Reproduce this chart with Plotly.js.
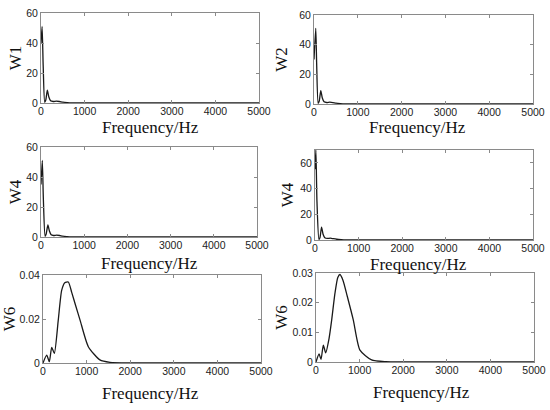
<!DOCTYPE html>
<html><head><meta charset="utf-8">
<script src="https://cdn.plot.ly/plotly-3.0.1.min.js"></script>
<style>html,body{margin:0;padding:0;background:#fff}#chart{width:550px;height:410px}</style>
</head><body><div id="chart"></div>
<script>
// Data
var f1 = [0, 25, 50, 85, 110, 145, 180, 220, 280, 350, 420, 500, 600, 700, 1000, 2000, 5000];
var w1 = [40, 51, 25, 0.5, 2, 8.5, 4, 1.5, 1, 1.2, 1, 0.6, 0.3, 0.1, 0.05, 0, 0];

var f2 = [0, 40, 60, 95, 120, 155, 190, 230, 290, 360, 430, 500, 600, 700, 1000, 2000, 5000];
var w2 = [30, 51, 28, 0.5, 2, 9, 4, 1.5, 1, 1.2, 1, 0.6, 0.3, 0.1, 0.05, 0, 0];

var f3 = [0, 30, 55, 95, 120, 160, 195, 235, 290, 360, 430, 500, 600, 700, 1000, 2000, 5000];
var w3 = [35, 51, 25, 0.5, 2, 8, 4, 1.5, 1, 1.2, 1, 0.6, 0.3, 0.1, 0.05, 0, 0];

var f4 = [0, 20, 45, 90, 115, 150, 185, 225, 285, 350, 420, 500, 600, 700, 1000, 2000, 5000];
var w4 = [55, 70, 30, 0.5, 2, 10, 4.5, 1.8, 1.2, 1.4, 1, 0.6, 0.3, 0.1, 0.05, 0, 0];

var f5 = [0, 85, 145, 200, 260, 350, 428, 500, 580, 660, 750, 850, 1040, 1305, 1535, 2000, 5000];
var w5 = [0, 0.0036, 0.0006, 0.0071, 0.0044, 0.0195, 0.033, 0.0365, 0.0368, 0.032, 0.026, 0.0195, 0.0074, 0.0014, 0.0003, 0, 0];

var f6 = [0, 70, 115, 168, 222, 300, 360, 435, 500, 550, 620, 720, 855, 1008, 1275, 1600, 2000, 5000];
var w6 = [0, 0.0027, 0.0009, 0.0057, 0.0031, 0.008, 0.0142, 0.0232, 0.0285, 0.0295, 0.0275, 0.022, 0.0142, 0.004, 0.0007, 0.0001, 0, 5e-6];

var yTitles = ['W1', 'W2', 'W4', 'W4', 'W6', 'W6'];
var xTitle = 'Frequency/Hz';
var freqs = [f1, f2, f3, f4, f5, f6];
var vals = [w1, w2, w3, w4, w5, w6];
var yRanges = [[0, 60], [0, 60], [0, 60], [0, 70], [0, 0.04], [0, 0.03]];
var yTicks = [[0, 20, 40, 60], [0, 20, 40, 60], [0, 20, 40, 60], [0, 20, 40, 60], [0, 0.02, 0.04], [0, 0.01, 0.02, 0.03]];
var xTicks = [0, 1000, 2000, 3000, 4000, 5000];

// panel pixel boxes [left, right, top, bottom]
var boxes = [[41, 259, 13, 103], [314, 533, 15, 104], [41, 257, 147, 237], [315, 533, 150, 240], [43, 261, 275, 363], [316, 534, 273, 362]];
var xTitlePos = [[150, 127], [417, 127], [149, 263], [418, 264], [150, 393], [422, 392]];
var yStandoff = [0, 7, 0, 2, 0, 0];
var W = 550, H = 410;

var traces = [];
var annotations = [];
var layout = {
  width: W, height: H, margin: {l: 0, r: 0, t: 0, b: 0},
  paper_bgcolor: '#fff', plot_bgcolor: '#fff', showlegend: false,
  font: {family: 'Liberation Sans, Arial, sans-serif', size: 10, color: '#222'}
};
var serif = 'Liberation Serif, Times New Roman, serif';
for (var i = 0; i < 6; i++) {
  var s = i === 0 ? '' : String(i + 1);
  traces.push({x: freqs[i], y: vals[i], type: 'scatter', mode: 'lines',
    line: {color: '#1a1a1a', width: 1.3, shape: 'spline', smoothing: 0.6},
    xaxis: 'x' + s, yaxis: 'y' + s, hoverinfo: 'skip'});
  var b = boxes[i];
  var axStyle = {showline: true, linecolor: '#8a8a8a', linewidth: 1, mirror: 'ticks',
    ticks: 'inside', ticklen: 3, tickcolor: '#8a8a8a', showgrid: false, zeroline: false,
    tickfont: {family: 'Liberation Sans, Arial, sans-serif', size: 10.5, color: '#222'}};
  layout['xaxis' + s] = Object.assign({}, axStyle, {
    domain: [b[0] / W, b[1] / W], anchor: 'y' + s, range: [0, 5000],
    tickvals: xTicks, ticktext: xTicks.map(String), ticklabelstandoff: -2
  });
  layout['yaxis' + s] = Object.assign({}, axStyle, {
    domain: [1 - b[3] / H, 1 - b[2] / H], anchor: 'x' + s, range: yRanges[i],
    tickvals: yTicks[i], ticktext: yTicks[i].map(String),
    title: {text: yTitles[i], font: {family: serif, size: 17, color: '#111'}, standoff: yStandoff[i]}
  });
  annotations.push({text: xTitle, xref: 'paper', yref: 'paper',
    x: xTitlePos[i][0] / W, y: 1 - xTitlePos[i][1] / H, xanchor: 'center', yanchor: 'middle',
    showarrow: false, borderpad: 0, font: {family: serif, size: 17, color: '#111'}});
}
layout.annotations = annotations;
Plotly.newPlot('chart', traces, layout, {staticPlot: true});
</script></body></html>
